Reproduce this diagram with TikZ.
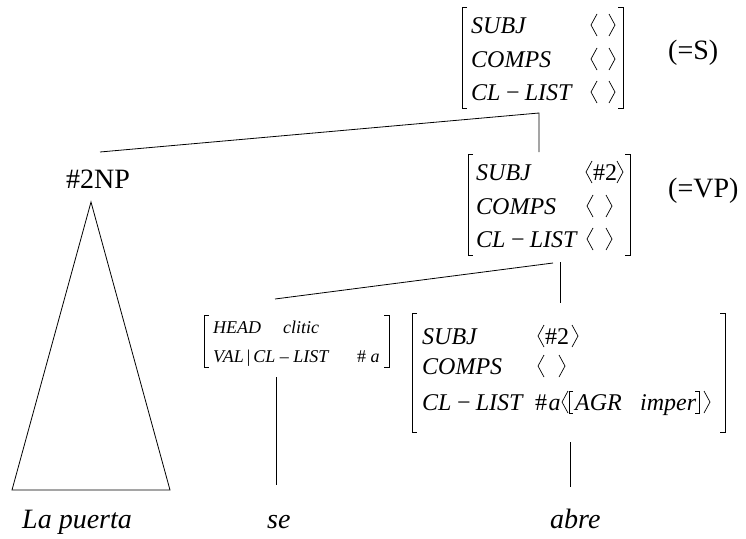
\documentclass[tikz,border=0pt]{standalone}
\usepackage{fontspec}
\setmainfont{Liberation Serif}
\newcommand\lbr[3]{\draw[brk] ({#1+5},#2) -- (#1,#2) -- (#1,#3) -- ({#1+5},#3);}
\newcommand\rbr[3]{\draw[brk] ({#1-5},#2) -- (#1,#2) -- (#1,#3) -- ({#1-5},#3);}
\newcommand\lang[2]{\draw[ang] ({#1+6},{#2-19}) -- (#1,{#2-8}) -- ({#1+6},{#2+3});}
\newcommand\rang[2]{\draw[ang] ({#1-6},{#2-19}) -- (#1,{#2-8}) -- ({#1-6},{#2+3});}
\begin{document}
\begin{tikzpicture}[x=1pt,y=-1pt,
  feat/.style={inner sep=0pt,anchor=base west,font=\fontsize{24}{24}\selectfont\rmfamily\itshape},
  val/.style={inner sep=0pt,anchor=base west,font=\fontsize{24}{24}\selectfont\rmfamily},
  small/.style={inner sep=0pt,anchor=base west,font=\fontsize{18}{18}\selectfont\rmfamily\itshape},
  smallup/.style={inner sep=0pt,anchor=base west,font=\fontsize{18}{18}\selectfont\rmfamily},
  word/.style={inner sep=0pt,anchor=base west,font=\fontsize{28}{28}\selectfont\rmfamily\itshape},
  cat/.style={inner sep=0pt,anchor=base west,font=\fontsize{28}{28}\selectfont\rmfamily},
  brk/.style={line width=0.8pt},
  ang/.style={line width=0.7pt},
  edge/.style={line width=0.8pt}]
\useasboundingbox (0,0) rectangle (746,538);

% ---------- top AVM (=S) ----------
\lbr{462}{7}{108}
\rbr{623}{7}{108}
\node[feat] (s1) at (471,33) {SUBJ};
\node[feat] (s2) at (471,67) {COMPS};
\node[feat] (s3) at (471,100) {CL\,−\,LIST};
\lang{591}{33}\rang{615}{33}
\lang{591}{67}\rang{615}{67}
\lang{591}{100}\rang{615}{100}
\node[cat] (slab) at (668,59) {(=S)};

% ---------- VP AVM ----------
\lbr{468}{154}{255}
\rbr{630}{154}{255}
\node[feat] (v1) at (476,180) {SUBJ};
\node[feat] (v2) at (476,214) {COMPS};
\node[feat] (v3) at (476,247) {CL\,−\,LIST};
\lang{586}{180}\node[val] (v1v) at (593,180) {\#2};\rang{623}{180}
\lang{587}{214}\rang{612}{214}
\lang{587}{247}\rang{612}{247}
\node[cat] (vplab) at (668,197) {(=VP)};

% ---------- NP ----------
\node[cat] (np) at (66,188) {\#2NP};
\coordinate (apex) at (91,202);
\coordinate (bl) at (12,490);
\coordinate (br) at (170,490);
\draw[edge] (apex) -- (bl) -- (br) -- cycle;

% ---------- clitic AVM ----------
\lbr{204}{315}{367}
\rbr{389}{315}{367}
\node[small] (c1) at (213,333) {HEAD};
\node[small] (c1v) at (283,333) {clitic};
\node[small] (c2) at (213,362) {VAL\,{\upshape|}\,CL – LIST};
\node[smallup] (c2v) at (357,362) {\# \itshape a};

% ---------- verb AVM ----------
\lbr{412}{313}{432}
\rbr{725}{313}{432}
\node[feat] (w1) at (422,344) {SUBJ};
\node[feat] (w2) at (422,374) {COMPS};
\node[feat] (w3) at (422,410) {CL\,−\,LIST};
\lang{538}{344}\node[val] (w1v) at (545,344) {\#2};\rang{578}{344}
\lang{538}{374}\rang{565}{374}
\node[val] (w3a) at (535,410) {\#\kern1.5pt\itshape a};
\lang{562}{410}
\draw[ang] (573,391) -- (569,391) -- (569,413) -- (573,413);
\node[feat] (w3b) at (575,410) {AGR};
\node[feat] (w3c) at (640,410) {imper};
\draw[ang] (695,391) -- (699,391) -- (699,413) -- (695,413);
\rang{710}{410}

% ---------- words ----------
\node[word] (la) at (22,528) {La puerta};
\node[word] (se) at (267,528) {se};
\node[word] (abre) at (550,528) {abre};

% ---------- connectors ----------
\coordinate (npTop) at (100,152);
\coordinate (sBot) at (539,113);
\coordinate (vpTop) at (539,152);
\coordinate (clTop) at (275,299);
\coordinate (vpL) at (553,263);
\coordinate (vpJ) at (560,262);
\coordinate (vbTop) at (560,303);
\coordinate (clBot) at (276,377);
\coordinate (seTop) at (276,485);
\coordinate (vbBot) at (570,442);
\coordinate (abTop) at (570,487);
\draw[edge] (npTop) -- (sBot) -- (vpTop);
\draw[edge] (clTop) -- (vpL);
\draw[edge] (vpJ) -- (vbTop);
\draw[edge] (clBot) -- (seTop);
\draw[edge] (vbBot) -- (abTop);
\end{tikzpicture}
\end{document}
